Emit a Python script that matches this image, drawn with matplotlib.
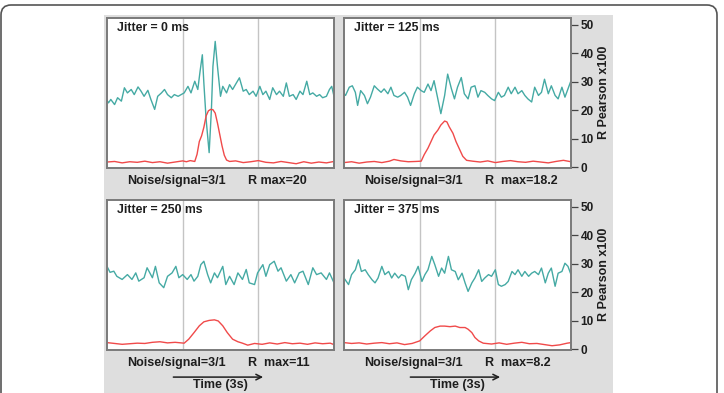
import numpy as np
import matplotlib
matplotlib.use("Agg")
import matplotlib.pyplot as plt
from matplotlib.patches import Rectangle, FancyBboxPatch
from matplotlib.transforms import IdentityTransform

plt.rcParams['font.family'] = ['Liberation Sans', 'DejaVu Sans']

# ---- data (time in s, R Pearson x100) ----
jitters = ["Jitter = 0 ms", "Jitter = 125 ms", "Jitter = 250 ms", "Jitter = 375 ms"]
rmax_labels = ["R max=20", "R  max=18.2", "R  max=11", "R  max=8.2"]

# jitter 0 ms
t_green_0 = [0.00, 0.02, 0.05, 0.10, 0.14, 0.19, 0.23, 0.27, 0.32, 0.36, 0.41, 0.45, 0.49, 0.54,
             0.58, 0.63, 0.67, 0.72, 0.76, 0.80, 0.85, 0.89, 0.94, 0.98, 1.02, 1.07, 1.11, 1.16,
             1.20, 1.23, 1.26, 1.28, 1.31, 1.35, 1.38, 1.40, 1.43, 1.46, 1.50, 1.53, 1.58, 1.62,
             1.66, 1.71, 1.75, 1.80, 1.84, 1.88, 1.93, 1.97, 2.02, 2.06, 2.10, 2.15, 2.19, 2.24,
             2.28, 2.33, 2.37, 2.41, 2.46, 2.50, 2.55, 2.59, 2.64, 2.68, 2.72, 2.77, 2.81, 2.85,
             2.90, 2.94, 2.97, 3.00]
green_0 = [23.5, 22.6, 23.8, 22.0, 24.4, 23.2, 27.9, 26.1, 27.3, 25.5, 28.2, 26.7, 24.9, 27.0,
           23.8, 20.3, 24.9, 26.1, 27.3, 25.5, 24.4, 25.5, 24.9, 25.5, 26.1, 28.4, 26.1, 30.2,
           27.3, 33.7, 39.5, 29.6, 16.8, 5.1, 20.3, 35.4, 44.2, 35.4, 24.9, 28.4, 26.1, 29.0,
           27.3, 29.6, 31.4, 26.7, 27.3, 25.5, 26.7, 24.9, 28.4, 25.5, 26.7, 23.8, 27.9, 25.5,
           26.7, 24.9, 29.6, 24.9, 25.5, 23.8, 26.7, 25.5, 30.2, 25.5, 26.1, 24.9, 25.5, 24.4,
           24.9, 27.3, 28.4, 24.9]
t_red_0 = [0.0, 0.1, 0.2, 0.3, 0.4, 0.5, 0.6, 0.7, 0.8, 0.9, 1.0, 1.05, 1.10, 1.16, 1.19, 1.22,
           1.25, 1.28, 1.31, 1.34, 1.37, 1.40, 1.43, 1.46, 1.49, 1.52, 1.55, 1.58, 1.62, 1.7,
           1.8, 1.9, 2.0, 2.1, 2.2, 2.3, 2.4, 2.5, 2.6, 2.7, 2.8, 2.9, 3.0]
red_0 = [1.8, 2.0, 1.5, 1.9, 1.7, 2.1, 1.6, 1.9, 1.4, 1.8, 2.2, 1.9, 2.3, 2.0, 4.5, 9.0,
         11.0, 14.0, 18.0, 19.8, 20.3, 20.2, 19.0, 15.5, 11.5, 7.5, 4.2, 2.5, 2.0, 2.2,
         1.6, 1.9, 2.3, 1.7, 1.5, 2.0, 1.6, 1.2, 1.9, 1.4, 1.8, 1.5, 2.0]

# jitter 125 ms
t_green_125 = [0.00, 0.02, 0.07, 0.11, 0.15, 0.18, 0.22, 0.27, 0.31, 0.35, 0.40, 0.44, 0.49, 0.53,
               0.58, 0.62, 0.66, 0.71, 0.75, 0.80, 0.84, 0.88, 0.93, 0.97, 1.02, 1.06, 1.11, 1.15,
               1.19, 1.24, 1.28, 1.33, 1.37, 1.42, 1.46, 1.50, 1.55, 1.59, 1.64, 1.68, 1.73, 1.77,
               1.81, 1.86, 1.90, 1.95, 1.99, 2.04, 2.08, 2.12, 2.17, 2.21, 2.26, 2.30, 2.35, 2.39,
               2.43, 2.48, 2.52, 2.57, 2.61, 2.65, 2.70, 2.74, 2.79, 2.83, 2.88, 2.92, 2.96, 3.00]
green_125 = [25.8, 25.2, 28.1, 28.6, 26.3, 21.7, 26.9, 25.2, 22.3, 24.6, 28.6, 27.5, 26.3, 27.5,
             25.8, 28.1, 25.2, 24.6, 25.2, 26.3, 24.6, 21.7, 25.8, 28.1, 26.9, 26.3, 29.2, 26.9,
             30.4, 24.0, 18.8, 25.2, 32.7, 27.5, 24.0, 28.1, 31.5, 25.8, 24.0, 28.1, 28.6, 24.6,
             26.9, 26.3, 25.2, 24.0, 23.4, 26.3, 24.6, 25.2, 28.1, 25.8, 28.1, 25.8, 26.9, 25.2,
             24.0, 22.9, 28.1, 25.2, 26.3, 30.9, 25.8, 28.6, 25.2, 24.0, 28.1, 24.6, 27.5, 30.4]
t_red_125 = [0.0, 0.1, 0.2, 0.3, 0.4, 0.5, 0.6, 0.66, 0.75, 0.85, 0.95, 1.02, 1.06, 1.11, 1.15,
             1.19, 1.24, 1.28, 1.33, 1.36, 1.39, 1.44, 1.48, 1.53, 1.57, 1.62, 1.7, 1.8, 1.9,
             2.0, 2.1, 2.2, 2.3, 2.4, 2.5, 2.6, 2.7, 2.8, 2.9, 3.0]
red_125 = [1.6, 1.9, 1.4, 1.8, 2.0, 1.6, 2.1, 2.7, 2.2, 1.9, 2.0, 2.1, 4.4, 6.7, 9.0,
           11.3, 13.0, 14.8, 16.2, 15.9, 14.2, 11.9, 9.0, 6.1, 3.8, 2.4, 2.1, 1.8, 2.2,
           1.6, 2.0, 2.3, 1.9, 1.7, 2.1, 1.8, 1.5, 2.0, 2.4, 1.9]

# jitter 250 ms
t_green_250 = [0.00, 0.04, 0.09, 0.13, 0.20, 0.27, 0.33, 0.38, 0.42, 0.49, 0.53, 0.60, 0.64, 0.69,
               0.75, 0.80, 0.86, 0.91, 0.95, 1.00, 1.06, 1.11, 1.15, 1.20, 1.24, 1.28, 1.33, 1.37,
               1.42, 1.46, 1.53, 1.57, 1.62, 1.68, 1.73, 1.79, 1.84, 1.88, 1.95, 1.99, 2.06, 2.10,
               2.15, 2.21, 2.26, 2.30, 2.37, 2.43, 2.48, 2.54, 2.59, 2.66, 2.72, 2.77, 2.83, 2.90,
               2.94, 3.00]
green_250 = [29.1, 27.0, 27.4, 25.6, 24.5, 26.2, 24.5, 26.8, 23.9, 25.1, 28.6, 25.1, 29.1, 23.3,
             21.6, 25.6, 26.8, 29.1, 25.1, 26.2, 24.5, 26.2, 23.9, 25.6, 29.7, 30.9, 26.2, 23.3,
             26.8, 25.1, 29.1, 22.7, 25.6, 22.7, 26.8, 24.5, 28.0, 23.3, 22.7, 26.8, 29.7, 25.6,
             29.7, 30.9, 27.4, 28.6, 23.9, 26.2, 23.3, 26.8, 27.4, 22.7, 28.6, 26.2, 26.8, 24.5,
             26.8, 23.3]
t_red_250 = [0.0, 0.1, 0.2, 0.3, 0.4, 0.5, 0.6, 0.7, 0.8, 0.9, 1.02, 1.08, 1.15, 1.22, 1.28,
             1.35, 1.42, 1.47, 1.53, 1.59, 1.66, 1.73, 1.79, 1.86, 1.95, 2.05, 2.15, 2.25,
             2.35, 2.45, 2.55, 2.65, 2.75, 2.85, 2.95, 3.0]
red_250 = [2.3, 2.0, 1.7, 1.9, 2.1, 2.0, 2.4, 2.6, 2.2, 2.4, 2.1, 3.5, 5.8, 8.2, 9.6,
           10.1, 10.3, 9.9, 8.2, 5.8, 3.5, 2.6, 2.1, 1.4, 2.0, 1.7, 2.2, 1.8, 2.3, 1.9,
           2.1, 1.7, 2.2, 1.9, 2.1, 1.6]

# jitter 375 ms
t_green_375 = [0.00, 0.06, 0.10, 0.15, 0.19, 0.23, 0.28, 0.32, 0.37, 0.41, 0.45, 0.50, 0.54, 0.59,
               0.63, 0.67, 0.72, 0.76, 0.81, 0.85, 0.89, 0.94, 0.98, 1.03, 1.07, 1.11, 1.16, 1.20,
               1.25, 1.29, 1.33, 1.38, 1.42, 1.47, 1.51, 1.56, 1.60, 1.64, 1.69, 1.73, 1.78, 1.82,
               1.86, 1.91, 1.95, 2.00, 2.04, 2.08, 2.13, 2.17, 2.22, 2.26, 2.30, 2.35, 2.39, 2.44,
               2.48, 2.52, 2.57, 2.61, 2.66, 2.70, 2.74, 2.79, 2.83, 2.88, 2.92, 2.96, 3.00]
green_375 = [25.0, 22.7, 26.2, 27.9, 31.4, 27.3, 27.9, 26.2, 24.4, 23.3, 25.0, 29.1, 26.2, 27.3,
             25.0, 26.7, 25.0, 26.2, 25.6, 20.9, 24.4, 26.7, 29.1, 23.8, 26.2, 27.9, 32.6, 29.7,
             25.6, 28.5, 26.7, 32.6, 27.9, 27.3, 24.4, 26.7, 23.3, 20.3, 23.3, 25.0, 27.9, 23.8,
             25.0, 26.2, 25.6, 27.9, 22.7, 22.1, 22.7, 23.8, 27.3, 26.2, 27.9, 25.6, 27.3, 25.6,
             26.7, 27.3, 26.2, 28.5, 23.3, 26.7, 28.5, 22.1, 26.7, 27.3, 30.2, 29.1, 26.2]
t_red_375 = [0.0, 0.1, 0.2, 0.3, 0.4, 0.5, 0.6, 0.7, 0.8, 0.9, 1.00, 1.07, 1.14, 1.20, 1.27,
             1.33, 1.40, 1.47, 1.53, 1.60, 1.64, 1.69, 1.73, 1.78, 1.84, 1.95, 2.05, 2.15,
             2.25, 2.35, 2.45, 2.55, 2.65, 2.75, 2.85, 2.95, 3.0]
red_375 = [2.3, 2.0, 2.2, 1.8, 2.1, 2.3, 1.9, 2.2, 1.6, 2.0, 2.9, 4.7, 6.4, 7.6, 8.1,
           8.1, 7.9, 8.1, 7.6, 7.6, 7.0, 5.8, 4.1, 2.9, 2.1, 1.8, 2.2, 1.7, 2.1, 2.4,
           1.9, 2.0, 1.6, 1.2, 1.5, 2.1, 2.3]

green_t = [t_green_0, t_green_125, t_green_250, t_green_375]
green_v = [green_0, green_125, green_250, green_375]
red_t = [t_red_0, t_red_125, t_red_250, t_red_375]
red_v = [red_0, red_125, red_250, red_375]
yticks = [0, 10, 20, 30, 40, 50]

GREEN = '#45aaa4'
RED = '#f04a4a'
FRAME = '#7a7a7a'
TXT = '#1e1e1e'
W, H = 724, 393

fig = plt.figure(figsize=(7.24, 3.93), dpi=100)
fig.patch.set_facecolor('white')

# rounded outer border and gray panel (behind the axes)
fig.patches.append(FancyBboxPatch((1, -30), 716, 388 + 30, boxstyle="round,pad=0,rounding_size=10",
                                  transform=IdentityTransform(), fill=False, ec='#555555', lw=1.2,
                                  zorder=-2))
fig.patches.append(Rectangle((104 / W, 0), (613 - 104) / W, (393 - 15) / H, transform=fig.transFigure,
                             fc='#dedede', ec='none', zorder=-1))

lefts = [107, 344, 107, 344]
tops = [17.5, 17.5, 199.5, 199.5]
aw, ah = 227, 150.5

for i in range(4):
    ax = fig.add_axes([lefts[i] / W, 1 - (tops[i] + ah) / H, aw / W, ah / H], zorder=1)
    ax.set_facecolor('white')
    ax.plot(green_t[i], green_v[i], color=GREEN, lw=1.0)
    ax.plot(red_t[i], red_v[i], color=RED, lw=1.0)
    for xv in (1, 2):
        ax.axvline(xv, color='#c4c4c4', lw=1.0, zorder=0)
    ax.set_xlim(0, 3)
    ax.set_ylim(-0.3, 52.6)
    ax.set_xticks([])
    for s in ax.spines.values():
        s.set_color(FRAME)
        s.set_linewidth(1.4)
    if i % 2 == 1:
        ax.yaxis.tick_right()
        ax.set_yticks(yticks)
        ax.tick_params(axis='y', length=5, width=0.9, color='#444444', pad=2,
                       labelsize=8.5, labelcolor=TXT)
        for lab in ax.get_yticklabels():
            lab.set_fontweight('bold')
        ax.yaxis.set_label_position('right')
        ax.set_ylabel('R Pearson x100', fontsize=9, fontweight='bold', color=TXT, labelpad=3)
    else:
        ax.set_yticks([])
    ax.text(0.045, 0.93, jitters[i], transform=ax.transAxes, fontsize=8.8, fontweight='bold',
            va='center', ha='left', color=TXT)
    ax.text(0.09, -0.088, 'Noise/signal=3/1', transform=ax.transAxes, fontsize=9,
            fontweight='bold', va='center', ha='left', color=TXT, clip_on=False)
    ax.text(0.62, -0.088, rmax_labels[i], transform=ax.transAxes, fontsize=9,
            fontweight='bold', va='center', ha='left', color=TXT, clip_on=False)
    if i >= 2:
        ax.annotate('', xy=(0.70, -0.18), xytext=(0.28, -0.18), xycoords='axes fraction',
                    arrowprops=dict(arrowstyle='->', color=TXT, lw=1.1), annotation_clip=False)
        ax.text(0.5, -0.235, 'Time (3s)', transform=ax.transAxes, fontsize=9,
                fontweight='bold', va='center', ha='center', color=TXT, clip_on=False)

fig.savefig('out.png', dpi=100)
